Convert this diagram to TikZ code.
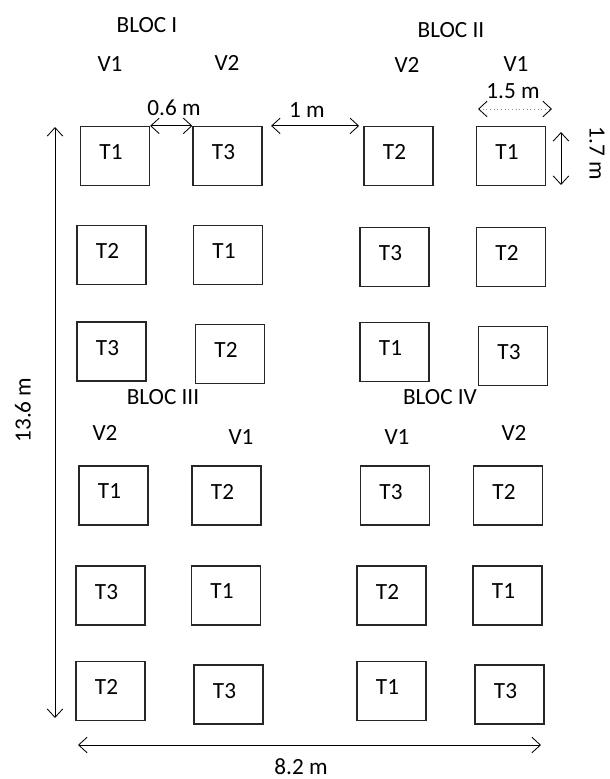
\documentclass[tikz,border=0pt]{standalone}
\usepackage{fontspec}
\setmainfont{Carlito}
\usetikzlibrary{arrows.meta}

\begin{document}
\begin{tikzpicture}[x=0.025cm,y=-0.025cm,
  plot/.style={draw=black!85,line width=0.9pt,inner sep=0pt,
    minimum width=1.725cm,minimum height=1.475cm,text depth=0.2cm,
    execute at end node={\hspace*{0.2cm}},font=\fontsize{16.5}{18}\selectfont},
  lbl/.style={inner sep=1pt,font=\fontsize{16.5}{18}\selectfont},
  dim/.style={{Straight Barb[length=6pt,width=11pt]}-{Straight Barb[length=6pt,width=11pt]},line width=0.6pt}
]
\useasboundingbox (0,0) rectangle (610,779);

%Block titles
\node[lbl] (blocI)   at (147,25)  {BLOC I};
\node[lbl] (blocII)  at (451,30)  {BLOC II};
\node[lbl] (blocIII) at (163,397) {BLOC III};
\node[lbl] (blocIV)  at (440,397) {BLOC IV};

%Varieties
\node[lbl] (vI1)  at (110,64)  {V1};
\node[lbl] (vI2)  at (227,63)  {V2};
\node[lbl] (vII2) at (407,65)  {V2};
\node[lbl] (vII1) at (516,64)  {V1};
\node[lbl] (vIII2) at (105,433) {V2};
\node[lbl] (vIII1) at (241,437) {V1};
\node[lbl] (vIV1) at (397,437) {V1};
\node[lbl] (vIV2) at (514,433) {V2};

%BLOC I and BLOC II
\node[plot] (p11) at (115,156)   {T1};
\node[plot] (p12) at (227.5,156) {T3};
\node[plot] (p13) at (398.5,156) {T2};
\node[plot] (p14) at (511,156)   {T1};

\node[plot] (p21) at (111.5,255) {T2};
\node[plot] (p22) at (228,255)   {T1};
\node[plot] (p23) at (394.5,257) {T3};
\node[plot] (p24) at (511,257)   {T2};

\node[plot] (p31) at (111.5,351.5) {T3};
\node[plot] (p32) at (230,354)     {T2};
\node[plot] (p33) at (394.5,352)   {T1};
\node[plot] (p34) at (513,356)     {T3};

%BLOC III and BLOC IV
\node[plot] (p41) at (113.5,495.5) {T1};
\node[plot] (p42) at (226.5,495.5) {T2};
\node[plot] (p43) at (395,495.5)   {T3};
\node[plot] (p44) at (508,495.5)   {T2};

\node[plot] (p51) at (110.5,595.5) {T3};
\node[plot] (p52) at (226,595.5)   {T1};
\node[plot] (p53) at (391.5,595.5) {T2};
\node[plot] (p54) at (507.5,595.5) {T1};

\node[plot] (p61) at (110.5,691)   {T2};
\node[plot] (p62) at (228.5,694.5) {T3};
\node[plot] (p63) at (391.5,691)   {T1};
\node[plot] (p64) at (509.5,694.5) {T3};

%Spacings between plots
\draw[dim] (p11.north east) -- (p12.north west);
\node[lbl] (d06) at (174,108) {0.6 m};
\draw[dim,shorten <=6pt,shorten >=3pt] (p12.north east) -- (p13.north west);
\node[lbl] (d1) at (307,110) {1 m};

%Plot width
\coordinate (w1) at (478,109);
\coordinate (w2) at (552,109);
\draw[dim,black!45,dotted,{Straight Barb[length=6pt,width=11pt,color=black]}-{Straight Barb[length=6pt,width=11pt,color=black]}] (w1) -- (w2);
\node[lbl] (d15) at (513,91) {1.5 m};

%Plot length
\coordinate (h1) at (561,132);
\coordinate (h2) at (561,185);
\draw[dim] (h1) -- (h2);
\node[lbl,rotate=-90] (d17) at (597,153) {1.7 m};

%Field length
\coordinate (l1) at (55,127);
\coordinate (l2) at (55,718);
\draw[dim] (l1) -- (l2);
\node[lbl,rotate=90] (d136) at (23,410) {13.6 m};

%Field width
\coordinate (f1) at (78,745);
\coordinate (f2) at (541,745);
\draw[dim] (f1) -- (f2);
\node[lbl] (d82) at (301,767) {8.2 m};

\end{tikzpicture}
\end{document}
